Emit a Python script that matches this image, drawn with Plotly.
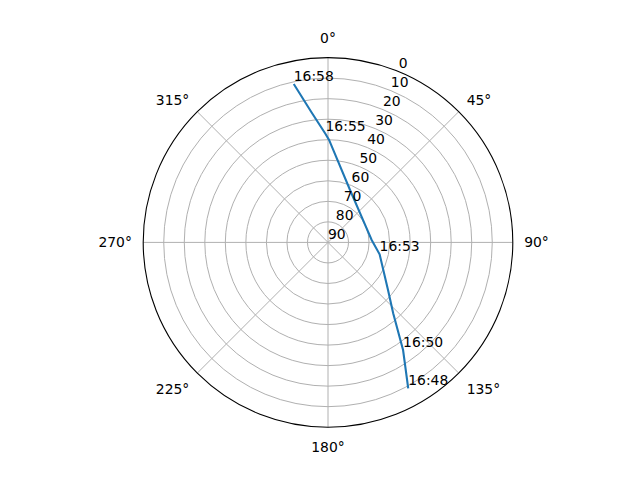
import plotly.graph_objects as go

# Satellite pass path (azimuth in degrees, elevation in degrees)
path_az = [151.2, 145.1, 137.4, 128.4, 116.5, 103.0, 86.9, 66.9, 22.8, 0.6, 358.7, 352.7, 347.8]
path_el = [8.9, 26.1, 43.1, 52.7, 59.9, 64.2, 68.7, 70.0, 62.3, 40.1, 37.2, 26.0, 11.1]

# Time labels along the pass
label_text = ["16:48", "16:50", "16:53", "16:55", "16:58"]
label_az = [151.2, 145.1, 103.0, 358.7, 347.8]
label_el = [8.9, 26.1, 64.2, 37.2, 11.1]

angle_ticks = [0, 45, 90, 135, 180, 225, 270, 315]
radial_ticks = [0, 10, 20, 30, 40, 50, 60, 70, 80, 90]
radial_label_angle = 22.5

font = "DejaVu Sans"

fig = go.Figure()
fig.add_trace(go.Scatterpolar(
    r=path_el, theta=path_az, mode="lines",
    line=dict(color="#1f77b4", width=2.1),
    showlegend=False, hoverinfo="skip",
))
# Radial (elevation) tick labels, placed along the 22.5° ray like matplotlib
fig.add_trace(go.Scatterpolar(
    r=radial_ticks, theta=[radial_label_angle] * len(radial_ticks), mode="text",
    text=[str(v) for v in radial_ticks], textposition="top right",
    textfont=dict(family=font, size=13.9, color="black"),
    showlegend=False, hoverinfo="skip", cliponaxis=False,
))
fig.add_trace(go.Scatterpolar(
    r=label_el, theta=label_az, mode="text",
    text=label_text, textposition="top right",
    textfont=dict(family=font, size=13.9, color="black"),
    showlegend=False, hoverinfo="skip", cliponaxis=False,
))

fig.update_layout(
    width=640, height=480,
    margin=dict(l=0, r=0, t=0, b=0),
    paper_bgcolor="white",
    font=dict(family=font, size=13.9, color="black"),
    polar=dict(
        domain=dict(x=[(328 - 184.8) / 640, (328 + 184.8) / 640], y=[0.11, 0.88]),
        bgcolor="white",
        angularaxis=dict(
            rotation=90, direction="clockwise",
            tickmode="array", tickvals=angle_ticks,
            ticktext=[f"{a}°" for a in angle_ticks],
            showline=True, linecolor="black", linewidth=1.1,
            showgrid=True, gridcolor="#b0b0b0", gridwidth=1.1,
            ticks="outside", ticklen=8, tickcolor="rgba(0,0,0,0)",
            tickfont=dict(family=font, size=13.9, color="black"),
        ),
        radialaxis=dict(
            range=[90, 0],
            tickmode="array", tickvals=radial_ticks,
            showticklabels=False,
            showline=False, ticks="",
            showgrid=True, gridcolor="#b0b0b0", gridwidth=1.1,
        ),
    ),
)

fig.write_html("out.html", config={"displayModeBar": False},
               post_script="document.body.style.margin='0';")
